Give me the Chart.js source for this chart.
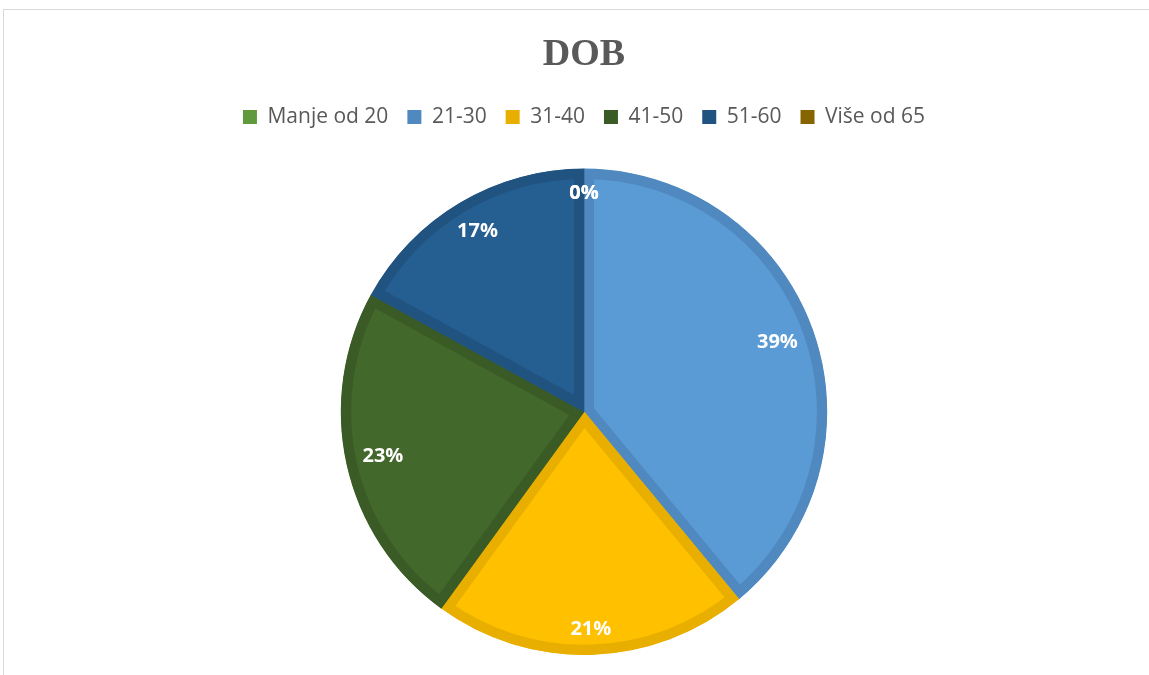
<!DOCTYPE html>
<html>
<head>
<meta charset="utf-8">
<script src="https://cdn.jsdelivr.net/npm/chart.js@4.4.0/dist/chart.umd.min.js"></script>
<style>
  html, body { margin: 0; padding: 0; background: #fff; }
  #wrap { position: relative; width: 1149px; height: 675px; }
  #frame { position: absolute; left: 3px; top: 9px; right: -5px; bottom: -5px; border-top: 1.5px solid #d9d9d9; border-left: 1.5px solid #d9d9d9; }
  #pieChart { position: absolute; left: 0; top: 0; }
</style>
</head>
<body>
<div id="wrap">
  <div id="frame"></div>
  <canvas id="pieChart" width="1149" height="675"></canvas>
</div>
<script>
var categories = ["Manje od 20", "21-30", "31-40", "41-50", "51-60", "Više od 65"];
var shares = [0, 39, 21, 23, 17, 0];
var fillColors = ["#70AD47", "#5B9BD5", "#FFC000", "#43682B", "#255E91", "#997300"];
var edgeColors = ["#609A3C", "#4F89BF", "#E8AF00", "#3A5B25", "#215381", "#866500"];

// white percentage labels near the outer edge of each slice
var sliceLabels = {
    id: 'sliceLabels',
    afterDatasetsDraw: function (chart) {
        var ctx = chart.ctx;
        var meta = chart.getDatasetMeta(0);
        var data = chart.data.datasets[0].data;
        var total = data.reduce(function (a, b) { return a + b; }, 0);
        ctx.save();
        ctx.font = "bold 20px 'Open Sans'";
        ctx.fillStyle = "#ffffff";
        ctx.textAlign = "center";
        ctx.textBaseline = "middle";
        meta.data.forEach(function (arc, i) {
            var p = arc.getProps(['x', 'y', 'startAngle', 'endAngle', 'outerRadius'], true);
            var mid = (p.startAngle + p.endAngle) / 2;
            var txt = Math.round(data[i] / total * 100) + "%";
            var hw = ctx.measureText(txt).width / 2, hh = 10;
            var c = Math.cos(mid), s = Math.sin(mid);
            var ext = hw * Math.abs(c) + hh * Math.abs(s);
            var r = p.outerRadius - 15 - ext;
            ctx.fillText(txt, p.x + c * r, p.y + s * r);
        });
        ctx.restore();
    }
};

// extra gap under the legend
var legendGap = {
    id: 'legendGap',
    beforeInit: function (chart) {
        var fit = chart.legend.fit;
        chart.legend.fit = function () {
            fit.call(this);
            this.height += 31;
        };
    }
};

var ctx = document.getElementById("pieChart");
var pieChart = new Chart(ctx, {
    type: 'pie',
    data: {
        labels: categories,
        datasets: [{
            data: shares,
            backgroundColor: fillColors,
            borderColor: edgeColors,
            borderWidth: 10,
            borderAlign: 'inner'
        }]
    },
    options: {
        responsive: false,
        animation: false,
        layout: { padding: { left: 19, right: 0, top: 0, bottom: 20 } },
        plugins: {
            title: {
                display: true,
                text: "DOB",
                color: "#595959",
                font: { family: "'Liberation Serif', 'Times New Roman', serif", size: 38, weight: 'bold' },
                padding: { top: 32, bottom: 10 }
            },
            legend: {
                position: 'top',
                labels: {
                    color: "#595959",
                    font: { family: "'Open Sans'", size: 21 },
                    boxWidth: 14,
                    boxHeight: 14,
                    padding: 19,
                    generateLabels: function (chart) {
                        var items = Chart.overrides.pie.plugins.legend.labels.generateLabels(chart);
                        items.forEach(function (it, i) {
                            it.fillStyle = edgeColors[i];
                            it.strokeStyle = edgeColors[i];
                            it.lineWidth = 0;
                            it.hidden = false;
                        });
                        return items;
                    }
                },
                onClick: null
            },
            tooltip: { enabled: false }
        }
    },
    plugins: [sliceLabels, legendGap]
});
</script>
</body>
</html>
